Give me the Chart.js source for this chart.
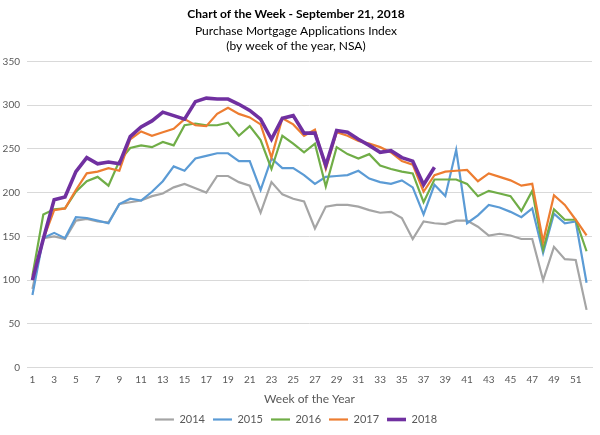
<!DOCTYPE html>
<html>
<head>
<meta charset="utf-8">
<script src="https://cdn.jsdelivr.net/npm/chart.js@4.4.1/dist/chart.umd.min.js"></script>
<style>
  html, body { margin: 0; padding: 0; background: #fff; }
  #wrap { width: 600px; height: 435px; }
</style>
</head>
<body>
<div id="wrap"><canvas id="myChart" width="600" height="435"></canvas></div>
<script>
const weeks = [1, 2, 3, 4, 5, 6, 7, 8, 9, 10, 11, 12, 13, 14, 15, 16, 17, 18, 19, 20, 21, 22, 23, 24, 25, 26,
  27, 28, 29, 30, 31, 32, 33, 34, 35, 36, 37, 38, 39, 40, 41, 42, 43, 44, 45, 46, 47, 48, 49, 50, 51, 52];

const y2014 = [90, 148, 150, 147, 168, 170, 167, 166, 187, 189, 191, 196, 199, 206, 210, 205, 200, 219, 219, 212, 208, 177, 212, 198, 193, 190,
  159, 184, 186, 186, 184, 180, 177, 178, 171, 147, 167, 165, 164, 168, 168, 161, 151, 153, 151, 147, 147, 100, 138, 124, 123, 66];
const y2015 = [83, 148, 154, 148, 172, 171, 168, 165, 187, 193, 191, 201, 213, 230, 225, 239, 242, 245, 245, 236, 236, 203, 239, 228, 228, 220,
  210, 218, 219, 220, 225, 216, 212, 210, 214, 206, 175, 209, 196, 249, 165, 174, 186, 183, 178, 172, 182, 131, 176, 165, 167, 97];
const y2016 = [105, 175, 181, 182, 201, 213, 218, 208, 236, 251, 254, 252, 258, 254, 277, 279, 277, 277, 280, 265, 276, 260, 227, 265, 256, 246,
  256, 207, 252, 244, 239, 244, 231, 227, 224, 222, 189, 215, 215, 215, 210, 196, 202, 199, 196, 179, 202, 135, 181, 169, 169, 133];
const y2017 = [103, 147, 180, 182, 203, 222, 224, 228, 225, 261, 270, 265, 269, 273, 284, 277, 276, 290, 297, 290, 286, 278, 240, 285, 278, 265,
  272, 227, 269, 265, 259, 256, 252, 246, 236, 232, 201, 220, 224, 225, 226, 213, 222, 218, 214, 208, 210, 144, 197, 186, 169, 151];
const y2018 = [100, 147, 192, 195, 224, 240, 233, 235, 233, 264, 275, 282, 292, 288, 284, 304, 308, 307, 307, 301, 294, 284, 261, 285, 288, 268,
  268, 231, 271, 269, 261, 254, 246, 248, 240, 236, 209, 229];

const yTicks = [0, 50, 100, 150, 200, 250, 300, 350];

const FONT = "Lato, 'Liberation Sans', sans-serif";
const TEXT = "#595959";

function series(label, data, color, width, order) {
  return {
    label, data, order,
    borderColor: color, backgroundColor: color,
    borderWidth: width, pointRadius: 0, pointHoverRadius: 0,
    pointStyle: "line", tension: 0, fill: false
  };
}

const ctx = document.getElementById("myChart").getContext("2d");
new Chart(ctx, {
  type: "line",
  data: {
    labels: weeks,
    datasets: [
      series("2014", y2014, "#A5A5A5", 2.2, 4),
      series("2015", y2015, "#5B9BD5", 2.2, 3),
      series("2016", y2016, "#70AD47", 2.2, 2),
      series("2017", y2017, "#ED7D31", 2.2, 1),
      series("2018", y2018, "#7030A0", 3.6, 0)
    ]
  },
  options: {
    responsive: false,
    animation: false,
    layout: { padding: { left: 0, right: 8, top: 0, bottom: 0 } },
    plugins: {
      title: {
        display: true,
        text: "Chart of the Week - September 21, 2018",
        color: "#000",
        font: { family: FONT, size: 12, weight: "bold" },
        padding: { top: 7, bottom: 2 }
      },
      subtitle: {
        display: true,
        text: ["Purchase Mortgage Applications Index", "(by week of the year, NSA)"],
        color: "#000",
        font: { family: FONT, size: 12, lineHeight: 1.25 },
        padding: { top: 0, bottom: 8 }
      },
      legend: {
        position: "bottom",
        labels: {
          usePointStyle: true,
          pointStyleWidth: 19,
          color: TEXT,
          font: { family: FONT, size: 11 },
          padding: 8,
          sort: (a, b) => a.datasetIndex - b.datasetIndex
        }
      },
      tooltip: { enabled: false }
    },
    scales: {
      x: {
        offset: true,
        grid: { display: false, drawTicks: false },
        border: { display: true, color: "#D9D9D9" },
        ticks: {
          autoSkip: false, maxRotation: 0, padding: 6,
          color: TEXT, font: { family: FONT, size: 10 },
          callback: (v, i) => (i % 2 === 0 ? weeks[i] : "")
        },
        title: {
          display: true, text: "Week of the Year",
          color: TEXT, font: { family: FONT, size: 12 },
          padding: { top: 0, bottom: 0 }
        }
      },
      y: {
        min: 0, max: 350,
        afterBuildTicks: (axis) => { axis.ticks = yTicks.map(v => ({ value: v })); },
        afterFit: (axis) => { axis.width = 27; },
        grid: { color: "#D9D9D9", drawTicks: false },
        border: { display: false },
        ticks: { padding: 7, color: TEXT, font: { family: FONT, size: 10 } }
      }
    }
  }
});
</script>
</body>
</html>
